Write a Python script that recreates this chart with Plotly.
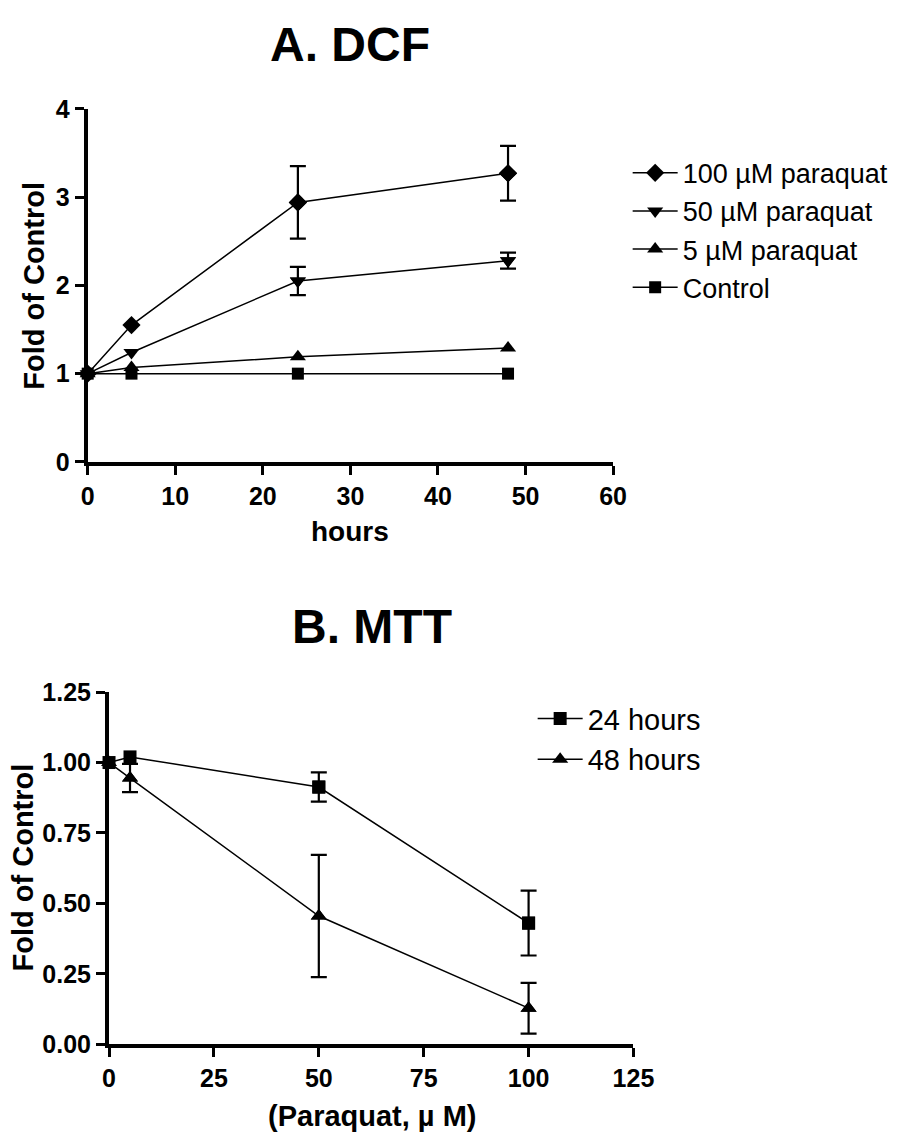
import plotly.graph_objects as go

# Page body has an 8px default margin; figure is sized to fit inside the window.
OFF = 8
W, H = 923 - OFF, 1147 - OFF

# ---------------- Data: A. DCF ----------------
hours = [0, 5, 24, 48]
dcf_names = ["100 µM paraquat", "50 µM paraquat", "5 µM paraquat", "Control"]
dcf_100 = [1.0, 1.55, 2.94, 3.27]
dcf_100_err = [0, 0, 0.41, 0.31]
dcf_50 = [1.0, 1.24, 2.05, 2.28]
dcf_50_err = [0, 0, 0.16, 0.09]
dcf_5 = [1.0, 1.07, 1.19, 1.29]
dcf_5_err = [0, 0, 0, 0]
dcf_ctrl = [1.0, 1.0, 1.0, 1.0]
dcf_ctrl_err = [0, 0, 0, 0]
dcf_xticks = [0, 10, 20, 30, 40, 50, 60]
dcf_yticks = [0, 1, 2, 3, 4]

# ---------------- Data: B. MTT ----------------
paraquat = [0, 5, 50, 100]
mtt_names = ["24 hours", "48 hours"]
mtt_24 = [1.0, 1.02, 0.913, 0.43]
mtt_24_err = [0, 0, 0.052, 0.115]
mtt_48 = [1.0, 0.945, 0.455, 0.128]
mtt_48_err = [0, 0.05, 0.217, 0.09]
mtt_xticks = [0, 25, 50, 75, 100, 125]
mtt_yticks = [0, 0.25, 0.5, 0.75, 1.0, 1.25]

FONT = "Liberation Sans"


def px_x(p):
    return (p - OFF) / W


def px_y(p):
    return 1 - (p - OFF) / H


fig = go.Figure()


def add_series(x, y, err, name, symbol, size, xa, ya, legend):
    mk = dict(symbol=symbol, size=size, color="black", line=dict(width=0))
    fig.add_trace(go.Scatter(
        x=x, y=y, name=name, mode="lines+markers",
        line=dict(color="black", width=1.5), marker=mk,
        xaxis=xa, yaxis=ya, legend=legend, cliponaxis=False))
    idx = [i for i, e in enumerate(err) if e > 0]
    if idx:
        fig.add_trace(go.Scatter(
            x=[x[i] for i in idx], y=[y[i] for i in idx], mode="markers",
            marker=mk, showlegend=False, xaxis=xa, yaxis=ya, cliponaxis=False,
            error_y=dict(type="data", array=[err[i] for i in idx],
                         color="black", thickness=2.2, width=8)))


add_series(hours, dcf_100, dcf_100_err, dcf_names[0], "diamond", 14, "x", "y", "legend")
add_series(hours, dcf_50, dcf_50_err, dcf_names[1], "triangle-down", 14, "x", "y", "legend")
add_series(hours, dcf_5, dcf_5_err, dcf_names[2], "triangle-up", 14, "x", "y", "legend")
add_series(hours, dcf_ctrl, dcf_ctrl_err, dcf_names[3], "square", 12, "x", "y", "legend")

add_series(paraquat, mtt_24, mtt_24_err, mtt_names[0], "square", 13, "x2", "y2", "legend2")
add_series(paraquat, mtt_48, mtt_48_err, mtt_names[1], "triangle-up", 14, "x2", "y2", "legend2")

tickfont = dict(family=FONT, size=25, color="black", weight="bold")
axis_common = dict(showline=True, linewidth=4, linecolor="black", ticks="outside",
                   ticklen=9, tickwidth=3, tickcolor="black", showgrid=False,
                   zeroline=False, tickfont=tickfont, fixedrange=True)

fig.update_layout(
    width=W, height=H, autosize=False,
    margin=dict(l=0, r=0, t=0, b=0),
    paper_bgcolor="white", plot_bgcolor="white",
    xaxis=dict(domain=[px_x(83), px_x(625)], range=[0, 60], tickvals=dcf_xticks,
               anchor="y", **axis_common),
    yaxis=dict(domain=[px_y(459), px_y(97)], range=[0, 4], tickvals=dcf_yticks,
               anchor="x", **axis_common),
    xaxis2=dict(domain=[px_x(105), px_x(646)], range=[0, 125], tickvals=mtt_xticks,
                anchor="y2", **axis_common),
    yaxis2=dict(domain=[px_y(1056), px_y(695)], range=[0, 1.25], tickvals=mtt_yticks,
                tickformat=".2f", anchor="x2", **axis_common),
    legend=dict(x=px_x(640), y=px_y(138), xanchor="left", yanchor="top",
                font=dict(family=FONT, size=27, color="black"),
                bgcolor="rgba(0,0,0,0)", tracegroupgap=0, itemwidth=45),
    legend2=dict(x=px_x(542), y=px_y(696), xanchor="left", yanchor="top",
                 font=dict(family=FONT, size=29, color="black"),
                 bgcolor="rgba(0,0,0,0)", tracegroupgap=0, itemwidth=45),
    showlegend=True,
)


def label(text, x, y, size, angle=0):
    return dict(text=text, x=px_x(x), y=px_y(y), xref="paper", yref="paper",
                xanchor="center", yanchor="middle", showarrow=False, textangle=angle,
                font=dict(family=FONT, size=size, color="black", weight="bold"))


fig.update_layout(annotations=[
    label("A. DCF", 354, 31, 48),
    label("B. MTT", 376, 628, 48),
    label("hours", 354, 530, 28),
    label("(Paraquat, µ M)", 376, 1130, 29),
    label("Fold of Control", 28, 278, 29, -90),
    label("Fold of Control", 16, 875, 29, -90),
])

fig.write_html("out.html")
